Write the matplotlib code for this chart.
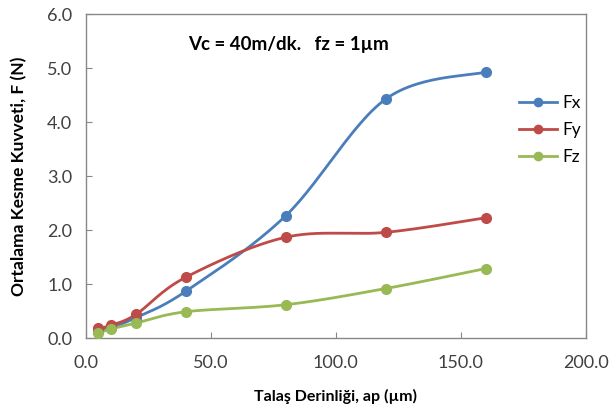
import numpy as np
import matplotlib.pyplot as plt

# Talaş derinliği (µm) ve kuvvetler (N)
ap = [5, 10, 20, 40, 80, 120, 160]
fx = [0.15, 0.20, 0.38, 0.87, 2.27, 4.43, 4.93]
fy = [0.18, 0.24, 0.44, 1.13, 1.87, 1.96, 2.23]
fz = [0.10, 0.17, 0.28, 0.49, 0.62, 0.92, 1.29]

series = [("Fx", fx, "#4a7ebb"), ("Fy", fy, "#be4b48"), ("Fz", fz, "#98b954")]


def smooth(xs, ys, n=30):
    # Excel tarzı yumuşatılmış çizgi (Catmull-Rom / Bezier)
    xs = np.asarray(xs, float)
    ys = np.asarray(ys, float)
    px = np.concatenate([[xs[0]], xs, [xs[-1]]])
    py = np.concatenate([[ys[0]], ys, [ys[-1]]])
    outx, outy = [], []
    t = np.linspace(0, 1, n)
    for i in range(1, len(px) - 2):
        p0 = np.array([px[i], py[i]])
        p3 = np.array([px[i + 1], py[i + 1]])
        c1 = p0 + (p3 - np.array([px[i - 1], py[i - 1]])) / 6
        c2 = p3 - (np.array([px[i + 2], py[i + 2]]) - p0) / 6
        b = ((1 - t) ** 3)[:, None] * p0 + (3 * (1 - t) ** 2 * t)[:, None] * c1 \
            + (3 * (1 - t) * t ** 2)[:, None] * c2 + (t ** 3)[:, None] * p3
        outx.extend(b[:, 0])
        outy.extend(b[:, 1])
    return outx, outy


plt.rcParams['font.family'] = ['Lato', 'DejaVu Sans']

fig = plt.figure(figsize=(6.14, 4.17), dpi=100)
ax = fig.add_axes([0.140, 0.189, 0.814, 0.777])

for name, vals, col in series:
    sx, sy = smooth(ap, vals)
    ax.plot(sx, sy, color=col, lw=2)
    ax.plot(ap, vals, 'o', color=col, ms=7, zorder=3)
    ax.plot([], [], '-o', color=col, lw=2, ms=6, label=name)

ax.set_xlim(0, 200)
ax.set_ylim(0, 6)
ax.set_xticks(np.arange(0, 201, 50))
ax.set_xticklabels([f"{v:.1f}" for v in np.arange(0, 201, 50)])
ax.set_yticks(np.arange(0, 6.1, 1))
ax.set_yticklabels([f"{v:.1f}" for v in np.arange(0, 6.1, 1)])
ax.tick_params(direction='in', length=4, color='#888888', labelsize=13,
               labelcolor='#404040')
ax.tick_params(axis='x', pad=12)
ax.tick_params(axis='y', pad=10)
for s in ax.spines.values():
    s.set_color('#888888')
    s.set_linewidth(1)

ax.set_xlabel("Talaş Derinliği, ap (µm)", fontsize=11.5, fontweight='bold', labelpad=13)
ax.set_ylabel("Ortalama Kesme Kuvveti, F (N)", fontsize=12.5, fontweight='bold', labelpad=14)

ax.text(41, 5.43, "Vc = 40m/dk.   fz = 1µm", fontsize=13.5, fontweight='bold', va='center')

ax.legend(loc='upper left', bbox_to_anchor=(0.835, 0.80), frameon=False, fontsize=12.5,
          handlelength=2.2, labelspacing=0.65, handletextpad=0.3)

fig.savefig("out.png", dpi=100)
